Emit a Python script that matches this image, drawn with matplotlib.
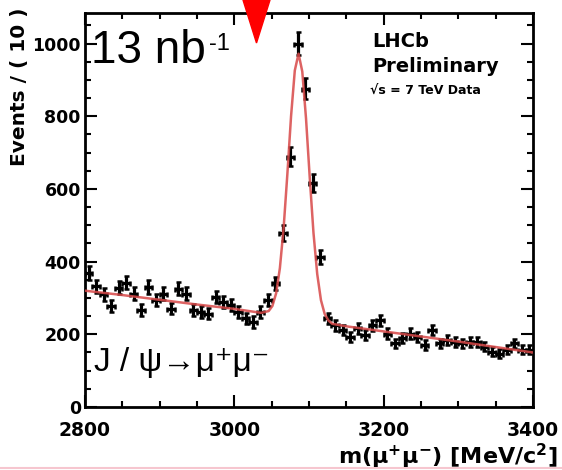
import numpy as np
import matplotlib.pyplot as plt
import matplotlib.ticker as ticker
from matplotlib.patches import Polygon
from matplotlib.lines import Line2D

# binned dimuon mass spectrum, 10 MeV bins from 2800 to 3400
bin_lo = 2800
bin_width = 10
counts = [370, 332, 310, 278, 328, 342, 312, 266, 330, 294,
          312, 271, 326, 312, 266, 262, 257, 303, 289, 280,
          262, 244, 234, 262, 294, 340, 478, 688, 1000, 876,
          615, 413, 244, 225, 212, 193, 216, 198, 225, 239,
          202, 175, 189, 202, 193, 170, 212, 175, 184, 179,
          175, 179, 179, 166, 152, 147, 157, 175, 157, 157]

# fit curve
fit_mass = [2800, 2850, 2900, 2950, 3000, 3036, 3046, 3051, 3056, 3061,
            3066, 3071, 3076, 3081, 3086, 3091, 3096, 3101, 3106, 3111,
            3116, 3121, 3126, 3131, 3150, 3200, 3250, 3300, 3350, 3400]
fit_events = [320, 308, 295, 282, 270, 259, 264, 278, 313, 382,
              492, 640, 801, 926, 972, 923, 794, 631, 479, 366,
              294, 256, 238, 229, 222, 208, 194, 180, 165, 150]

x_ticks = [2800, 3000, 3200, 3400]
y_ticks = [0, 200, 400, 600, 800, 1000]

W, H = 562, 470
fig = plt.figure(figsize=(W / 100, H / 100), dpi=100)
ax = fig.add_axes([85 / W, 1 - 407 / H, (533 - 85) / W, (407 - 13) / H])

centers = bin_lo + bin_width * (np.arange(len(counts)) + 0.5)
counts = np.array(counts)
ax.errorbar(centers, counts, xerr=bin_width / 2, yerr=np.sqrt(counts),
            fmt="none", ecolor="black", elinewidth=2.3, capsize=1.8, capthick=1.8, zorder=3)
ax.plot(fit_mass, fit_events, color="#d84848", lw=1.8, alpha=0.85, zorder=4)

ax.set_xlim(2800, 3400)
ax.set_ylim(0, 1084)
ax.set_xticks(x_ticks)
ax.set_yticks(y_ticks)
ax.xaxis.set_minor_locator(ticker.MultipleLocator(50))
ax.yaxis.set_minor_locator(ticker.MultipleLocator(50))
ax.tick_params(which="both", direction="in", top=True, right=True, width=1.5)
ax.tick_params(which="major", length=8.5)
ax.tick_params(which="minor", length=4)
ax.tick_params(axis="y", labelsize=12.5, pad=3)
ax.tick_params(axis="x", labelsize=13.5, pad=10)
for lab in ax.get_xticklabels() + ax.get_yticklabels():
    lab.set_fontweight("bold")
for s in ax.spines.values():
    s.set_linewidth(2)

fig.text(20 / W, 1 - 8 / H, "Events / ( 10 )", rotation=90, ha="center", va="top",
         fontsize=14.5, fontweight="bold")
fig.text(558 / W, 1 - 464 / H, r"m($\mathbf{\mu^{+}\mu^{-}}$) [MeV/c$^{\mathbf{2}}$]",
         ha="right", va="baseline", fontsize=16, fontweight="bold")

fig.text(91 / W, 1 - 63 / H, "13 nb", fontsize=33, family="Liberation Sans", va="baseline")
fig.text(209 / W, 1 - 50 / H, "-1", fontsize=17, family="Liberation Sans", va="baseline")
fig.text(94 / W, 1 - 371 / H, "J / ψ→μ⁺μ⁻", fontsize=24,
         family=["Liberation Sans", "DejaVu Sans"], va="baseline")

fig.text(372 / W, 1 - 47 / H, "LHCb", fontsize=14, fontweight="bold", va="baseline")
fig.text(372 / W, 1 - 71.5 / H, "Preliminary", fontsize=14, fontweight="bold", va="baseline")
fig.text(370 / W, 1 - 95 / H, "√s = 7 TeV Data", fontsize=9, fontweight="bold", va="baseline")

# red marker at the top
tri = [(243 / W, 1.0), (270 / W, 1.0), (256.5 / W, 1 - 43 / H)]
fig.patches.append(Polygon(tri, closed=True, color="red", transform=fig.transFigure, figure=fig))
fig.lines.append(Line2D([0, 1], [1 - 468 / H] * 2, color="#f6c6cf", lw=1.5,
                        transform=fig.transFigure, figure=fig))

fig.savefig("out.png", dpi=100)
